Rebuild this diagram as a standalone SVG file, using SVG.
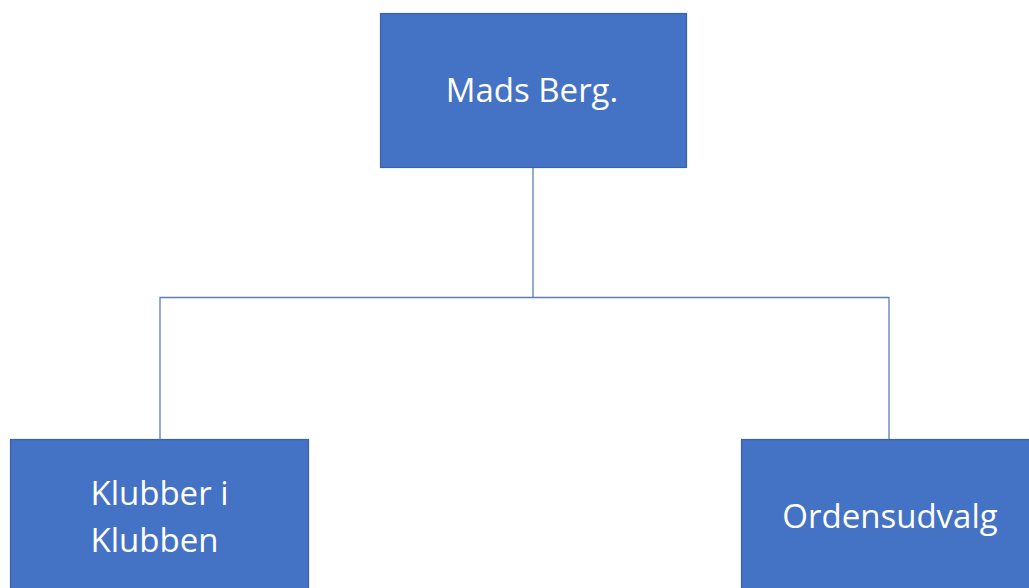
<svg xmlns="http://www.w3.org/2000/svg" width="1029" height="588" viewBox="0 0 1029 588">
<style>
.box{fill:#4472C4;stroke:#3A62A8;stroke-width:1.2}
.lbl{fill:#ffffff;font-family:"Open Sans","Noto Sans","Liberation Sans",sans-serif;font-size:33px;text-anchor:middle}
.conn{fill:none;stroke:#5B7DB8;stroke-width:1.3}
</style>
<rect width="1029" height="588" fill="#ffffff"/>
<g id="connectors">
<path class="conn" d="M533,168 V297.5 M160,439 V297.5 H889 V439"/>
</g>
<g id="node-mads">
<rect class="box" x="380.5" y="13.5" width="306" height="154"/>
<text class="lbl" x="532" y="102">Mads Berg.</text>
</g>
<g id="node-klubber">
<rect class="box" x="10.5" y="439.5" width="298" height="160"/>
<text class="lbl" x="159.5" y="505">Klubber i</text>
<text class="lbl" x="154.5" y="552">Klubben</text>
</g>
<g id="node-ordens">
<rect class="box" x="741.5" y="439.5" width="300" height="160"/>
<text class="lbl" x="890" y="528">Ordensudvalg</text>
</g>
</svg>
